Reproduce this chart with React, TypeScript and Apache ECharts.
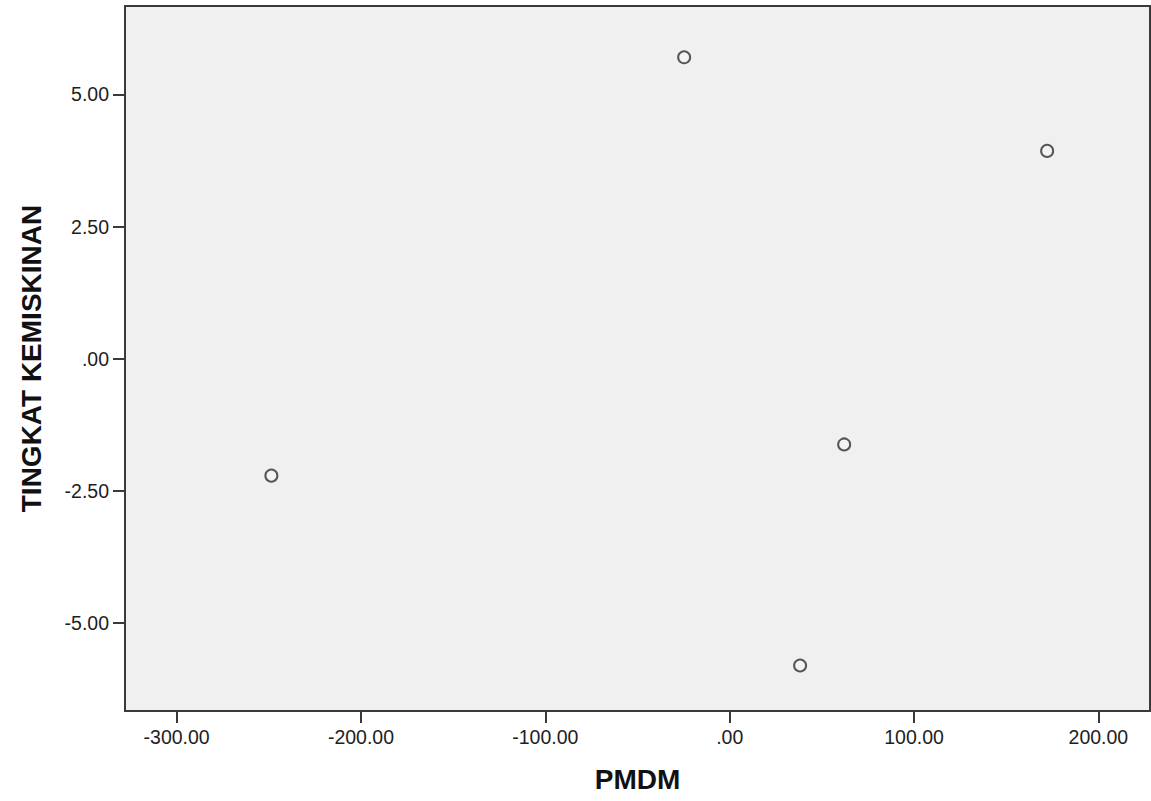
import React, { useEffect, useRef } from "react";
import * as echarts from "echarts";

const pmdm = [-248.6, -24.7, 172.2, 62.1, 38.2];
const kemiskinan = [-2.21, 5.7, 3.93, -1.62, -5.8];
const xTicks = [-300, -200, -100, 0, 100, 200];
const yTicks = [-5, -2.5, 0, 2.5, 5];

const fmt = (v: number) => {
  if (Math.abs(v) < 1e-9) return ".00";
  return v.toFixed(2);
};

export default function App() {
  const ref = useRef<HTMLDivElement>(null);
  useEffect(() => {
    if (!ref.current) return;
    const chart = echarts.init(ref.current, undefined, { renderer: "svg" });
    const axisCommon = {
      axisLine: { show: true, onZero: false, lineStyle: { color: "#3a3a3a", width: 2 } },
      axisTick: { show: true, inside: false, length: 12, lineStyle: { color: "#3a3a3a", width: 2 } },
      splitLine: { show: false },
      nameTextStyle: { fontFamily: "Liberation Sans, Arial, sans-serif", fontWeight: "bold", fontSize: 28, color: "#111" },
    };
    const labelStyle = {
      formatter: (v: number) => fmt(v),
      margin: 16,
      fontSize: 19.5,
      color: "#1e1e1e",
      fontFamily: "Liberation Sans, Arial, sans-serif",
    };
    chart.setOption({
      animation: false,
      backgroundColor: "#ffffff",
      grid: {
        left: 125,
        top: 6,
        right: 1,
        bottom: 90,
        show: true,
        backgroundColor: "#f0f0f0",
        borderColor: "#3a3a3a",
        borderWidth: 2,
      },
      xAxis: {
        type: "value",
        min: -328,
        max: 228,
        name: "PMDM",
        nameLocation: "middle",
        nameGap: 54,
        ...axisCommon,
        axisTick: { ...axisCommon.axisTick, customValues: xTicks },
        axisLabel: { ...labelStyle, customValues: xTicks },
      },
      yAxis: {
        type: "value",
        min: -6.66,
        max: 6.67,
        name: "TINGKAT KEMISKINAN",
        nameLocation: "middle",
        nameGap: 80,
        ...axisCommon,
        axisTick: { ...axisCommon.axisTick, customValues: yTicks },
        axisLabel: { ...labelStyle, customValues: yTicks },
      },
      series: [
        {
          type: "scatter",
          data: pmdm.map((x, i) => [x, kemiskinan[i]]),
          symbol: "circle",
          symbolSize: 12,
          itemStyle: { color: "#f4f4f4", borderColor: "#2e2e2e", borderWidth: 2 },
        },
      ],
    });
    return () => chart.dispose();
  }, []);
  return (
    <div
      ref={ref}
      style={{ position: "fixed", left: 0, top: 0, width: 1151, height: 801 }}
    />
  );
}
